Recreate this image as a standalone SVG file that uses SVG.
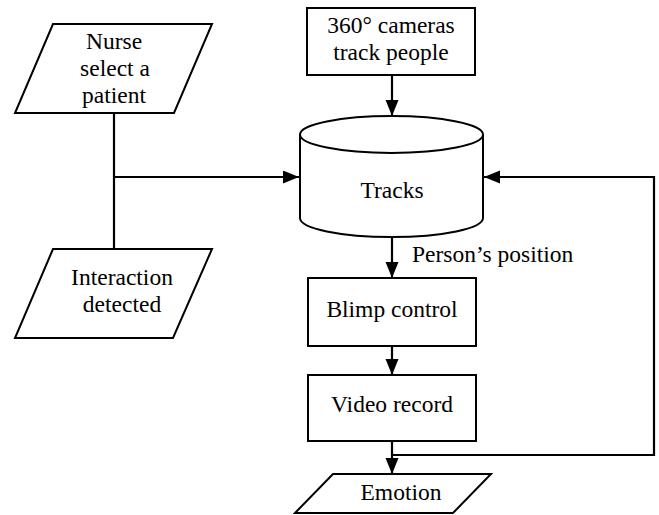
<svg xmlns="http://www.w3.org/2000/svg" width="659" height="515" viewBox="0 0 659 515">
  <style>
    .shape { fill: #ffffff; stroke: #000000; stroke-width: 2; }
    .link { fill: none; stroke: #000000; stroke-width: 2.2; }
    .label { font-family: "Liberation Serif", "Times New Roman", serif; font-size: 23.5px; fill: #000000; text-anchor: middle; }
    .side { text-anchor: start; }
  </style>
  <defs>
    <marker id="arrow" markerUnits="userSpaceOnUse" markerWidth="17" markerHeight="14" refX="16" refY="6.5" orient="auto">
      <path d="M0,0 L16,6.5 L0,13 z" fill="#000000"/>
    </marker>
  </defs>

  <!-- connectors -->
  <g id="connectors">
    <path class="link" d="M114,113 V249"/>
    <path class="link" d="M114,177 H299" marker-end="url(#arrow)"/>
    <path class="link" d="M392,75 V116" marker-end="url(#arrow)"/>
    <path class="link" d="M392,237 V278" marker-end="url(#arrow)"/>
    <path class="link" d="M392,346 V375" marker-end="url(#arrow)"/>
    <path class="link" d="M392,441 V474" marker-end="url(#arrow)"/>
    <path class="link" d="M392,455 H654 V177 H484" marker-end="url(#arrow)"/>
    <text class="label side" x="412" y="262" font-family="Liberation Serif">Person’s position</text>
  </g>

  <!-- input: nurse selection -->
  <g id="nurse">
    <polygon class="shape" points="53,24 212,24 174,113 15,113"/>
    <text class="label" x="114" y="49" font-family="Liberation Serif">Nurse</text>
    <text class="label" x="115" y="76" font-family="Liberation Serif">select a</text>
    <text class="label" x="114" y="103" font-family="Liberation Serif">patient</text>
  </g>

  <!-- input: interaction -->
  <g id="interaction">
    <polygon class="shape" points="53,249 212,249 173,338 15,338"/>
    <text class="label" x="122" y="285" font-family="Liberation Serif">Interaction</text>
    <text class="label" x="122" y="312" font-family="Liberation Serif">detected</text>
  </g>

  <!-- cameras -->
  <g id="cameras">
    <rect class="shape" x="307" y="8" width="168" height="67"/>
    <text class="label" x="391" y="33" font-family="Liberation Serif">360° cameras</text>
    <text class="label" x="391" y="60" font-family="Liberation Serif">track people</text>
  </g>

  <!-- track store -->
  <g id="tracks">
    <path class="shape" d="M300,134.5 V218 A91.5,19 0 0 0 483,218 V134.5 A91.5,18.5 0 0 0 300,134.5 Z"/>
    <path class="shape" style="fill:none" d="M300,134.5 A91.5,18.5 0 0 0 483,134.5"/>
    <text class="label" x="392" y="198" font-family="Liberation Serif">Tracks</text>
  </g>

  <!-- blimp control -->
  <g id="blimp">
    <rect class="shape" x="308" y="278" width="168" height="68"/>
    <text class="label" x="392" y="317" font-family="Liberation Serif">Blimp control</text>
  </g>

  <!-- video record -->
  <g id="video">
    <rect class="shape" x="308" y="375" width="168" height="66"/>
    <text class="label" x="392" y="412" font-family="Liberation Serif">Video record</text>
  </g>

  <!-- output: emotion -->
  <g id="emotion">
    <polygon class="shape" points="333,474 491,474 453,513 295,513"/>
    <text class="label" x="401" y="500" font-family="Liberation Serif">Emotion</text>
  </g>
</svg>
